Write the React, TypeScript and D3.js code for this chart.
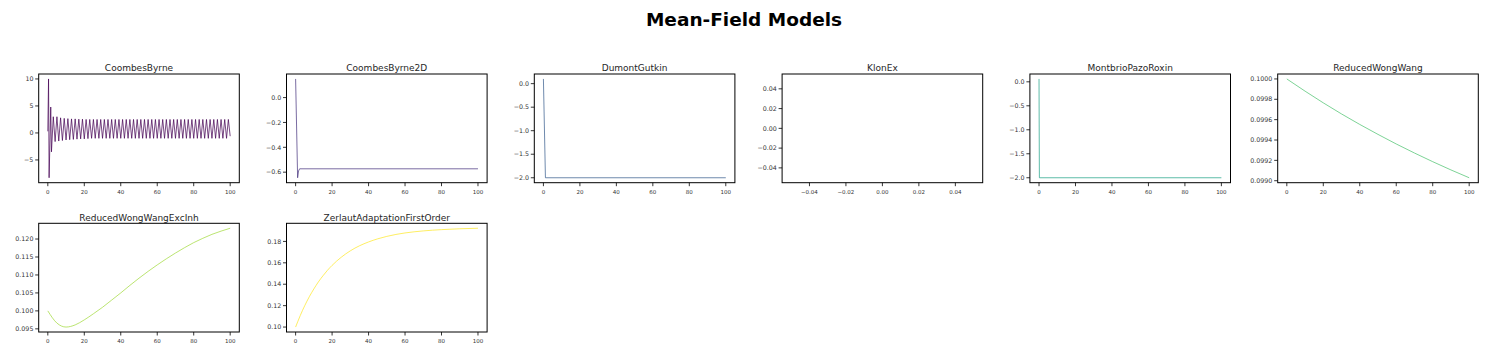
import React from 'react';
import * as d3 from 'd3';

const suptitle = 'Mean-Field Models';
const modelNames = [
  'CoombesByrne', 'CoombesByrne2D', 'DumontGutkin', 'KlonEx',
  'MontbrioPazoRoxin', 'ReducedWongWang', 'ReducedWongWangExcInh', 'ZerlautAdaptationFirstOrder',
];
const modelColors = ['#440154', '#46327e', '#365c8d', '#277f8e', '#1fa187', '#4ac16d', '#a0da39', '#fde725'];

const xTicksTime = [0, 20, 40, 60, 80, 100];
const xTicksKlon = [-0.04, -0.02, 0, 0.02, 0.04];

// CoombesByrne
const cbTime = [0, 0.4, 0.7, 1.6, 2.0,
  3, 4, 5, 6, 7, 8, 9, 10, 11, 12, 13, 14, 15, 16, 17, 18, 19, 20, 21, 22,
  23, 24, 25, 26, 27, 28, 29, 30, 31, 32, 33, 34, 35, 36, 37, 38, 39, 40, 41, 42,
  43, 44, 45, 46, 47, 48, 49, 50, 51, 52, 53, 54, 55, 56, 57, 58, 59, 60, 61, 62,
  63, 64, 65, 66, 67, 68, 69, 70, 71, 72, 73, 74, 75, 76, 77, 78, 79, 80, 81, 82,
  83, 84, 85, 86, 87, 88, 89, 90, 91, 92, 93, 94, 95, 96, 97, 98, 99, 100];
const cbValues = [0.3, 10.0, -8.3, 4.8, -3.5,
  3.0, -1.6, 3.0, -1.5, 2.8, -1.4, 2.7, -1.3, 2.65, -1.25, 2.6, -1.2, 2.6, -1.15, 2.55, -1.1, 2.55, -1.1, 2.5, -1.05,
  2.5, -1.0, 2.5, -1.0, 2.5, -1.0, 2.5, -1.0, 2.5, -1.0, 2.5, -1.0, 2.5, -1.0, 2.5, -1.0, 2.5, -1.0, 2.5, -1.0,
  2.5, -1.0, 2.5, -1.0, 2.5, -1.0, 2.5, -1.0, 2.5, -1.0, 2.5, -1.0, 2.5, -1.0, 2.5, -1.0, 2.5, -1.0, 2.5, -1.0,
  2.5, -1.0, 2.5, -1.0, 2.5, -1.0, 2.5, -1.0, 2.5, -1.0, 2.5, -1.0, 2.5, -1.0, 2.5, -1.0, 2.5, -1.0, 2.5, -1.0,
  2.5, -1.0, 2.5, -1.0, 2.5, -1.0, 2.5, -1.0, 2.5, -1.0, 2.5, -1.0, 2.5, -1.0, 2.5, -1.0, 2.5, -0.6];

// CoombesByrne2D
const cb2dTime = [0, 1.1, 1.6, 2.2, 100];
const cb2dValues = [0.15, -0.645, -0.59, -0.573, -0.573];

// DumontGutkin
const dgTime = [0, 1.1, 100];
const dgValues = [0.1, -2.0, -2.0];

// KlonEx (no visible trace)
const klonTime = [0];
const klonValues = [0];

// MontbrioPazoRoxin
const mprTime = [0, 0.2, 100];
const mprValues = [0.06, -2.0, -2.0];

// ReducedWongWang
const rwwTime = [0, 10, 20, 30, 40, 50, 60, 70, 80, 90, 100];
const rwwValues = [0.1, 0.09988, 0.099765, 0.099656, 0.099553, 0.099455, 0.099361, 0.099272, 0.099187, 0.099106, 0.099029];

// ReducedWongWangExcInh
const rwweiTime = [0, 5, 10, 15, 20, 25, 30, 35, 40, 45, 50, 55, 60, 65, 70, 75, 80, 85, 90, 95, 100];
const rwweiValues = [0.1, 0.0966, 0.0955, 0.0961, 0.0975, 0.0992, 0.101, 0.103, 0.105, 0.1071, 0.1091, 0.111, 0.1128,
  0.1145, 0.1161, 0.1176, 0.119, 0.1202, 0.1213, 0.1222, 0.123];

// ZerlautAdaptationFirstOrder
const zTime = [0, 2.5, 5, 7.5, 10, 12.5, 15, 17.5, 20, 25, 30, 35, 40, 45, 50, 55, 60, 70, 80, 90, 100];
const zValues = [0.1, 0.1106, 0.12, 0.1283, 0.1356, 0.1422, 0.1479, 0.1531, 0.1576, 0.1652, 0.1712, 0.1759, 0.1795,
  0.1824, 0.1847, 0.1865, 0.1879, 0.1898, 0.191, 0.1918, 0.1923];

const yTicksCB = [-5, 0, 5, 10];
const yTicksCB2D = [-0.6, -0.4, -0.2, 0.0];
const yTicksDG = [-2.0, -1.5, -1.0, -0.5, 0.0];
const yTicksKlon = [-0.04, -0.02, 0, 0.02, 0.04];
const yTicksMPR = [-2.0, -1.5, -1.0, -0.5, 0.0];
const yTicksRWW = [0.099, 0.0992, 0.0994, 0.0996, 0.0998, 0.1];
const yTicksRWWEI = [0.095, 0.1, 0.105, 0.11, 0.115, 0.12];
const yTicksZ = [0.1, 0.12, 0.14, 0.16, 0.18];

const yDecimals = [0, 1, 1, 2, 1, 4, 3, 2];

const series = [
  { time: cbTime, values: cbValues, yTicks: yTicksCB, xTicks: xTicksTime, xDec: 0, smooth: false },
  { time: cb2dTime, values: cb2dValues, yTicks: yTicksCB2D, xTicks: xTicksTime, xDec: 0, smooth: false },
  { time: dgTime, values: dgValues, yTicks: yTicksDG, xTicks: xTicksTime, xDec: 0, smooth: false },
  { time: klonTime, values: klonValues, yTicks: yTicksKlon, xTicks: xTicksKlon, xDec: 2, smooth: false },
  { time: mprTime, values: mprValues, yTicks: yTicksMPR, xTicks: xTicksTime, xDec: 0, smooth: false },
  { time: rwwTime, values: rwwValues, yTicks: yTicksRWW, xTicks: xTicksTime, xDec: 0, smooth: true },
  { time: rwweiTime, values: rwweiValues, yTicks: yTicksRWWEI, xTicks: xTicksTime, xDec: 0, smooth: true },
  { time: zTime, values: zValues, yTicks: yTicksZ, xTicks: xTicksTime, xDec: 0, smooth: true },
];

const FONT = 'DejaVu Sans, Liberation Sans, sans-serif';

function padDomain(ext: [number, number]): [number, number] {
  const [a, b] = ext;
  if (a === b) return [a - 0.055, a + 0.055];
  const p = (b - a) * 0.05;
  return [a - p, b + p];
}

function Panel({ idx }: { idx: number }) {
  const s = series[idx];
  const col = idx % 6;
  const row = Math.floor(idx / 6);
  const left = 38.7 + col * 247.8;
  const top = 74 + row * 149.3;
  const w = 200.6;
  const h = 108.7;
  const x = d3.scaleLinear().domain(padDomain(d3.extent(s.time) as [number, number])).range([left, left + w]);
  const y = d3.scaleLinear().domain(padDomain(d3.extent(s.values) as [number, number])).range([top + h, top]);
  const line = d3
    .line<number>()
    .x((_, i) => x(s.time[i]))
    .y((d) => y(d))
    .curve(s.smooth ? d3.curveMonotoneX : d3.curveLinear);
  const fy = d3.format(`.${yDecimals[idx]}f`);
  const fx = d3.format(`.${s.xDec}f`);
  const tickLen = 3.5;
  return (
    <g>
      <text x={left + w / 2} y={top - 2.8} textAnchor="middle" fontFamily={FONT} fontSize={9} fill="#262626">
        {modelNames[idx]}
      </text>
      {s.values.length > 1 && (
        <path d={line(s.values) || ''} fill="none" stroke={modelColors[idx]} strokeOpacity={0.8} strokeWidth={0.9} strokeLinejoin="round" />
      )}
      <rect x={left} y={top} width={w} height={h} fill="none" stroke="#000" strokeWidth={1} />
      {s.yTicks.map((t) => (
        <g key={'y' + t}>
          <line x1={left - tickLen} x2={left} y1={y(t)} y2={y(t)} stroke="#000" strokeWidth={0.8} />
          <text x={left - tickLen - 1.8} y={y(t)} dy="0.35em" textAnchor="end" fontFamily={FONT} fontSize={6.3} fill="#333">
            {fy(t)}
          </text>
        </g>
      ))}
      {s.xTicks.map((t) => (
        <g key={'x' + t}>
          <line x1={x(t)} x2={x(t)} y1={top + h} y2={top + h + tickLen} stroke="#000" strokeWidth={0.8} />
          <text x={x(t)} y={top + h + 11.4} textAnchor="middle" fontFamily={FONT} fontSize={5.5} fill="#333">
            {fx(t)}
          </text>
        </g>
      ))}
    </g>
  );
}

export default function App() {
  return (
    <svg width={1488} height={357} style={{ position: 'absolute', left: 0, top: 0, background: '#fff' }}>
      <rect x={0} y={0} width={1488} height={357} fill="#fff" />
      <text x={744} y={25.5} textAnchor="middle" fontFamily={FONT} fontSize={18.5} fontWeight="bold" fill="#000">
        {suptitle}
      </text>
      {series.map((_, i) => (
        <Panel key={i} idx={i} />
      ))}
    </svg>
  );
}
